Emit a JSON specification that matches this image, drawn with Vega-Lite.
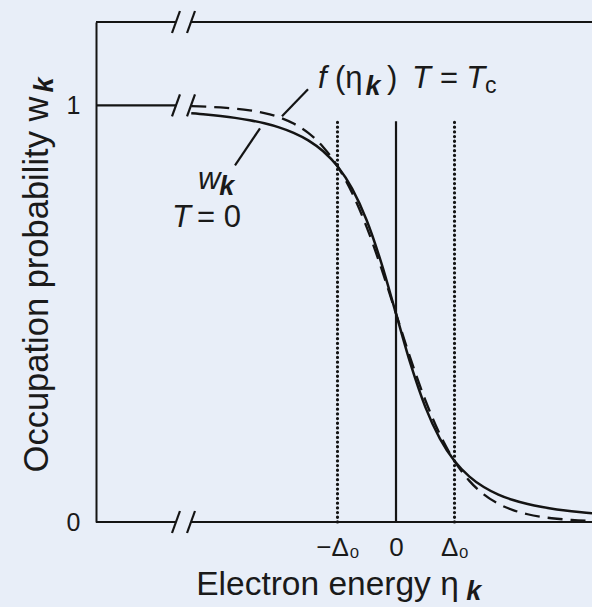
{
  "$schema": "https://vega.github.io/schema/vega-lite/v6.json",
  "width": 496,
  "height": 500,
  "autosize": {"type": "none"},
  "padding": {"left": 96, "top": 22, "right": 0, "bottom": 85},
  "background": "#e8eef8",
  "config": {"view": {"stroke": null}, "font": "Liberation Sans"},
  "datasets": {
    "curve": [
      {"x": -3.5, "y": 0.9808, "s": "w"}, {"x": -3.25, "y": 0.9779, "s": "w"}, {"x": -3.0, "y": 0.9743, "s": "w"},
      {"x": -2.75, "y": 0.9699, "s": "w"}, {"x": -2.5, "y": 0.9642, "s": "w"}, {"x": -2.25, "y": 0.9569, "s": "w"},
      {"x": -2.0, "y": 0.9472, "s": "w"}, {"x": -1.75, "y": 0.9341, "s": "w"}, {"x": -1.5, "y": 0.916, "s": "w"},
      {"x": -1.25, "y": 0.8904, "s": "w"}, {"x": -1.0, "y": 0.8536, "s": "w"}, {"x": -0.75, "y": 0.8, "s": "w"},
      {"x": -0.5, "y": 0.7236, "s": "w"}, {"x": -0.25, "y": 0.6213, "s": "w"}, {"x": 0, "y": 0.5, "s": "w"},
      {"x": 0.25, "y": 0.3787, "s": "w"}, {"x": 0.5, "y": 0.2764, "s": "w"}, {"x": 0.75, "y": 0.2, "s": "w"},
      {"x": 1.0, "y": 0.1464, "s": "w"}, {"x": 1.25, "y": 0.1096, "s": "w"}, {"x": 1.5, "y": 0.084, "s": "w"},
      {"x": 1.75, "y": 0.0659, "s": "w"}, {"x": 2.0, "y": 0.0528, "s": "w"}, {"x": 2.25, "y": 0.0431, "s": "w"},
      {"x": 2.5, "y": 0.0358, "s": "w"}, {"x": 2.75, "y": 0.0301, "s": "w"}, {"x": 3.0, "y": 0.0257, "s": "w"},
      {"x": 3.25, "y": 0.0221, "s": "w"}, {"x": 3.35, "y": 0.0209, "s": "w"},
      {"x": -3.5, "y": 0.9979, "s": "f"}, {"x": -3.25, "y": 0.9968, "s": "f"}, {"x": -3.0, "y": 0.995, "s": "f"},
      {"x": -2.75, "y": 0.9922, "s": "f"}, {"x": -2.5, "y": 0.988, "s": "f"}, {"x": -2.25, "y": 0.9815, "s": "f"},
      {"x": -2.0, "y": 0.9715, "s": "f"}, {"x": -1.75, "y": 0.9563, "s": "f"}, {"x": -1.5, "y": 0.9338, "s": "f"},
      {"x": -1.25, "y": 0.9007, "s": "f"}, {"x": -1.0, "y": 0.8537, "s": "f"}, {"x": -0.75, "y": 0.7896, "s": "f"},
      {"x": -0.5, "y": 0.7072, "s": "f"}, {"x": -0.25, "y": 0.6085, "s": "f"}, {"x": 0, "y": 0.5, "s": "f"},
      {"x": 0.25, "y": 0.3915, "s": "f"}, {"x": 0.5, "y": 0.2928, "s": "f"}, {"x": 0.75, "y": 0.2104, "s": "f"},
      {"x": 1.0, "y": 0.1463, "s": "f"}, {"x": 1.25, "y": 0.0993, "s": "f"}, {"x": 1.5, "y": 0.0662, "s": "f"},
      {"x": 1.75, "y": 0.0437, "s": "f"}, {"x": 2.0, "y": 0.0286, "s": "f"}, {"x": 2.25, "y": 0.0186, "s": "f"},
      {"x": 2.5, "y": 0.012, "s": "f"}, {"x": 2.75, "y": 0.0078, "s": "f"}, {"x": 3.0, "y": 0.005, "s": "f"},
      {"x": 3.25, "y": 0.0032, "s": "f"}, {"x": 3.35, "y": 0.0027, "s": "f"}
    ],
    "segs": [
      {"x": -5.128, "y": 0, "x2": -3.761, "y2": 0},
      {"x": -3.504, "y": 0, "x2": 3.35, "y2": 0},
      {"x": -5.128, "y": 1, "x2": -3.761, "y2": 1},
      {"x": -5.128, "y": 1.2, "x2": -3.761, "y2": 1.2},
      {"x": -3.504, "y": 1.2, "x2": 3.35, "y2": 1.2},
      {"x": -3.829, "y": -0.0264, "x2": -3.693, "y2": 0.0264},
      {"x": -3.572, "y": -0.0264, "x2": -3.436, "y2": 0.0264},
      {"x": -3.829, "y": 0.9736, "x2": -3.693, "y2": 1.0264},
      {"x": -3.572, "y": 0.9736, "x2": -3.436, "y2": 1.0264},
      {"x": -3.829, "y": 1.1736, "x2": -3.693, "y2": 1.2264},
      {"x": -3.572, "y": 1.1736, "x2": -3.436, "y2": 1.2264},
      {"x": -1.504, "y": 1.0384, "x2": -1.949, "y2": 0.9736},
      {"x": -2.752, "y": 0.8561, "x2": -2.325, "y2": 0.9448},
      {"x": 0, "y": 0, "x2": 0, "y2": 0.962}
    ],
    "dots": [
      {"x": -1, "y": 0, "x2": -1, "y2": 0.964},
      {"x": 1, "y": 0, "x2": 1, "y2": 0.964}
    ],
    "italic": [
      {"x": -1.333, "y": 1.0408, "t": "f"},
      {"x": 0.2735, "y": 1.0408, "t": "T = T"},
      {"x": -3.385, "y": 0.7986, "t": "w"},
      {"x": -3.829, "y": 0.7074, "t": "T"}
    ],
    "upright": [
      {"x": -1.043, "y": 1.0408, "t": "(η"},
      {"x": -0.154, "y": 1.0408, "t": ")"},
      {"x": -3.402, "y": 0.7074, "t": "= 0"}
    ],
    "small": [
      {"x": 1.52, "y": 1.0288, "t": "c"}
    ],
    "bold": [
      {"x": -0.52, "y": 1.024, "t": "k"},
      {"x": -3.02, "y": 0.7842, "t": "k"},
      {"x": 1.2, "y": -0.187, "t": "k"}
    ],
    "boldrot": [
      {"x": -5.863, "y": 1.031, "t": "k"}
    ]
  },
  "encoding": {
    "x": {
      "field": "x", "type": "quantitative",
      "scale": {"domain": [-5.128, 3.35], "nice": false, "zero": false},
      "axis": {
        "values": [-1, 0, 1],
        "labelExpr": "datum.value == 0 ? '0' : (datum.value < 0 ? '−Δ₀' : 'Δ₀')",
        "domain": false, "ticks": false, "tickSize": 0, "grid": false,
        "labelFontSize": 26, "labelPadding": 12, "labelColor": "#1a1a1a", "labelOverlap": false, "labelFlush": false,
        "title": "Electron energy η", "titleFontSize": 33.5, "titleFontWeight": "normal", "titleColor": "#1a1a1a",
        "titlePadding": 8, "titleX": 231
      }
    },
    "y": {
      "field": "y", "type": "quantitative",
      "scale": {"domain": [0, 1.2], "nice": false},
      "axis": {
        "values": [0, 1], "format": "d",
        "domain": true, "domainColor": "#141414", "domainWidth": 2,
        "ticks": false, "tickSize": 0, "grid": false,
        "labelFontSize": 25, "labelPadding": 16, "labelColor": "#1a1a1a",
        "title": "Occupation probability w", "titleFontSize": 34.5, "titleFontWeight": "normal", "titleColor": "#1a1a1a",
        "titlePadding": 12, "titleY": 262
      }
    }
  },
  "layer": [
    {
      "data": {"name": "curve"},
      "transform": [{"filter": "datum.s == 'f'"}],
      "mark": {"type": "line", "color": "#141414", "strokeWidth": 2.3, "strokeDash": [15, 8], "interpolate": "monotone"}
    },
    {
      "data": {"name": "curve"},
      "transform": [{"filter": "datum.s == 'w'"}],
      "mark": {"type": "line", "color": "#141414", "strokeWidth": 2.5, "interpolate": "monotone"}
    },
    {
      "data": {"name": "segs"},
      "mark": {"type": "rule", "color": "#141414", "strokeWidth": 2.2},
      "encoding": {"x2": {"field": "x2"}, "y2": {"field": "y2"}}
    },
    {
      "data": {"name": "dots"},
      "mark": {"type": "rule", "color": "#141414", "strokeWidth": 3.2, "strokeDash": [0.1, 4.6], "strokeCap": "round"},
      "encoding": {"x2": {"field": "x2"}, "y2": {"field": "y2"}}
    },
    {
      "data": {"name": "italic"},
      "mark": {"type": "text", "fontStyle": "italic", "fontSize": 31, "align": "left", "baseline": "alphabetic", "color": "#1a1a1a"},
      "encoding": {"text": {"field": "t"}}
    },
    {
      "data": {"name": "upright"},
      "mark": {"type": "text", "fontSize": 31, "align": "left", "baseline": "alphabetic", "color": "#1a1a1a"},
      "encoding": {"text": {"field": "t"}}
    },
    {
      "data": {"name": "small"},
      "mark": {"type": "text", "fontSize": 23, "align": "left", "baseline": "alphabetic", "color": "#1a1a1a"},
      "encoding": {"text": {"field": "t"}}
    },
    {
      "data": {"name": "bold"},
      "mark": {"type": "text", "fontStyle": "italic", "fontWeight": "bold", "fontSize": 27, "align": "left", "baseline": "alphabetic", "color": "#1a1a1a"},
      "encoding": {"text": {"field": "t"}}
    },
    {
      "data": {"name": "boldrot"},
      "mark": {"type": "text", "fontStyle": "italic", "fontWeight": "bold", "fontSize": 27, "angle": 270, "align": "left", "baseline": "alphabetic", "color": "#1a1a1a"},
      "encoding": {"text": {"field": "t"}}
    }
  ]
}
